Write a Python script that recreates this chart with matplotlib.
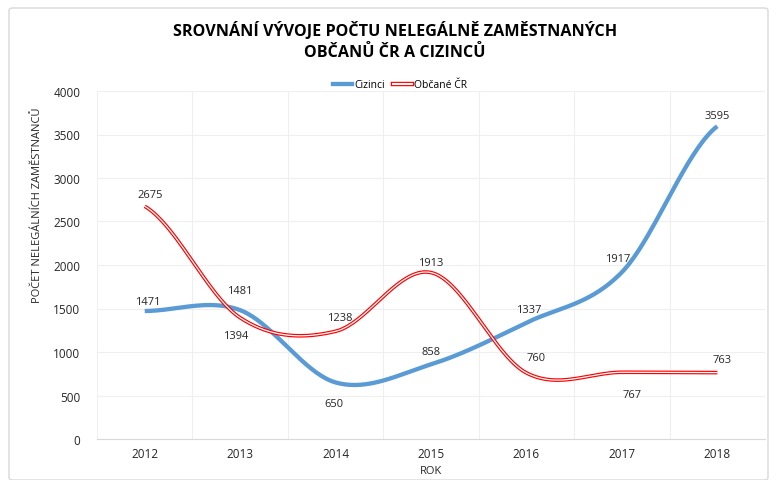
import numpy as np
import matplotlib
matplotlib.use("Agg")
import matplotlib.pyplot as plt
from matplotlib.patches import FancyBboxPatch
from matplotlib.lines import Line2D
from matplotlib.legend_handler import HandlerBase

years = ["2012", "2013", "2014", "2015", "2016", "2017", "2018"]
cizinci = [1471, 1481, 650, 858, 1337, 1917, 3595]
obcane = [2675, 1394, 1238, 1913, 760, 767, 763]

# label offsets in pixels (dx, dy)
ciz_off = [(3, 10), (0, 20), (-2, -21), (0, 13), (2, 13), (-4, 14), (0, 11)]
obc_off = [(5, 12), (-4, -18), (4, 14), (0, 10), (10, 15), (10, -22), (5, 13)]

def smooth(y, n=40):
    # Catmull-Rom (Excel-like smoothing) through the data points
    y = np.asarray(y, float)
    x = np.arange(len(y), dtype=float)
    px = np.concatenate([[2 * x[0] - x[1]], x, [2 * x[-1] - x[-2]]])
    py = np.concatenate([[y[0]], y, [y[-1]]])
    xs, ys = [], []
    for i in range(1, len(px) - 2):
        p0, p1, p2, p3 = (np.array([px[j], py[j]]) for j in (i - 1, i, i + 1, i + 2))
        c1 = p1 + (p2 - p0) / 6
        c2 = p2 - (p3 - p1) / 6
        t = np.linspace(0, 1, n)[:, None]
        b = (1 - t) ** 3 * p1 + 3 * (1 - t) ** 2 * t * c1 + 3 * (1 - t) * t ** 2 * c2 + t ** 3 * p2
        xs.append(b[:, 0]); ys.append(b[:, 1])
    return np.concatenate(xs), np.concatenate(ys)

plt.rcParams['font.family'] = ['Open Sans', 'DejaVu Sans']

W, H = 775, 481
fig = plt.figure(figsize=(W / 100, H / 100), dpi=100)
ax = fig.add_axes([97 / W, 1 - 440 / H, (765 - 97) / W, (440 - 92) / H])

border = FancyBboxPatch((9 / W, 0.0), (768 - 9) / W, 1 - 9 / H,
                        boxstyle="round,pad=0,rounding_size=0.005",
                        transform=fig.transFigure, fill=False,
                        edgecolor="#d9d9d9", linewidth=1.0)
fig.patches.append(border)

BLUE_LW = 3.1
RED_LW, WHITE_LW = 2.6, 0.9

x = np.arange(len(years))
sx, sy = smooth(cizinci)
ax.plot(sx, sy, color="#5b9bd5", lw=BLUE_LW, solid_capstyle="butt", zorder=3)
ox, oy = smooth(obcane)
ax.plot(ox, oy, color="#ff0000", lw=RED_LW, solid_capstyle="butt", zorder=4)
ax.plot(ox, oy, color="white", lw=WHITE_LW, solid_capstyle="butt", zorder=5)

for i, v in enumerate(cizinci):
    ax.annotate(str(v), (x[i], v), xytext=(ciz_off[i][0] * 0.72, ciz_off[i][1] * 0.72),
                textcoords="offset points", ha="center", va="center", fontsize=8, color="#262626", zorder=6)
for i, v in enumerate(obcane):
    ax.annotate(str(v), (x[i], v), xytext=(obc_off[i][0] * 0.72, obc_off[i][1] * 0.72),
                textcoords="offset points", ha="center", va="center", fontsize=8, color="#262626", zorder=6)

ax.set_xlim(-0.5, len(years) - 0.5)
ax.set_ylim(0, 4000)
ax.set_yticks(np.arange(0, 4001, 500))
ax.set_xticks(x)
ax.set_xticklabels(years)
ax.set_xticks(np.arange(-0.5, len(years), 1), minor=True)
ax.grid(True, axis="y", color="#efefef", lw=0.8)
ax.grid(True, axis="x", which="minor", color="#efefef", lw=0.8)
ax.grid(False, axis="x", which="major")
ax.tick_params(axis="both", which="both", length=0, labelsize=8.5, colors="#262626", pad=6)
ax.tick_params(axis="y", pad=12)
for s in ["top", "right", "left"]:
    ax.spines[s].set_visible(False)
ax.spines["bottom"].set_color("#d9d9d9")
ax.set_axisbelow(True)

fig.text(395 / W, 1 - 31 / H, "SROVNÁNÍ VÝVOJE POČTU NELEGÁLNĚ ZAMĚSTNANÝCH",
         ha="center", va="center", fontsize=11.6, fontweight="bold", color="#000000")
fig.text(395 / W, 1 - 53 / H, "OBČANŮ ČR A CIZINCŮ",
         ha="center", va="center", fontsize=11.6, fontweight="bold", color="#000000")
fig.text(431 / W, 1 - 472 / H, "ROK", ha="center", va="center", fontsize=8, color="#262626")
fig.text(38 / W, 1 - 205 / H, "POČET NELEGÁLNÍCH ZAMĚSTNANCŮ", ha="center", va="center",
         rotation=90, fontsize=8, color="#262626")


class DoubleLine(HandlerBase):
    def create_artists(self, legend, orig, xd, yd, w, h, fs, trans):
        l1 = Line2D([xd, xd + w], [yd + h / 2] * 2, color="#ff0000", lw=RED_LW + 0.6, transform=trans)
        l2 = Line2D([xd, xd + w], [yd + h / 2] * 2, color="white", lw=WHITE_LW + 0.6, transform=trans)
        return [l1, l2]

h1 = Line2D([], [], color="#5b9bd5", lw=BLUE_LW)
h2 = Line2D([], [], color="#ff0000")
fig.legend([h1, h2], ["Cizinci", "Občané ČR"], loc="center", bbox_to_anchor=(400 / W, 1 - 86 / H),
           ncol=2, frameon=False, fontsize=7.5, handlelength=1.8, handletextpad=0.2,
           columnspacing=0.8, handler_map={h2: DoubleLine()})

fig.savefig("out.png", dpi=100)
